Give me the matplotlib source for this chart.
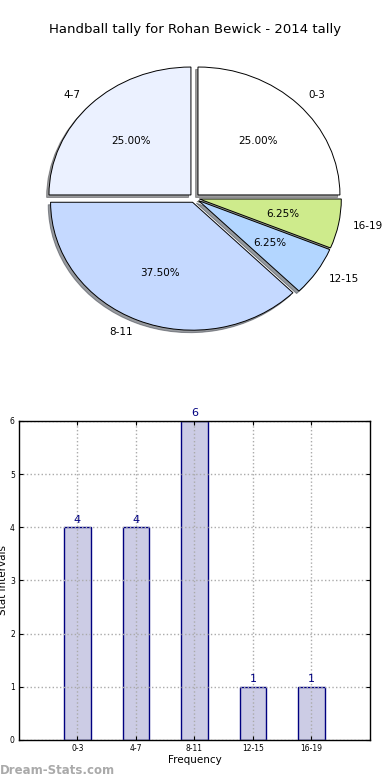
import numpy as np
import matplotlib
matplotlib.use('Agg')
import matplotlib.pyplot as plt

# data
categories = ['0-3', '4-7', '8-11', '12-15', '16-19']
counts = [4, 4, 6, 1, 1]
pie_colors = ['#FFFFFF', '#EBF1FF', '#C5D9FF', '#B3D6FF', '#CEEB8C']
title = 'Handball tally for Rohan Bewick - 2014 tally'

fig = plt.figure(figsize=(3.9, 7.8), dpi=100)

# pie (elliptical, like the old matplotlib without axis equal)
ax1 = fig.add_axes([0.0436, 0.541, 0.910, 0.410])
ax1.pie(counts, labels=categories, colors=pie_colors, autopct='%1.2f%%',
        explode=[0.035] * len(counts),
        shadow=dict(ox=-0.012, oy=-0.014, shade=0.75), startangle=0,
        textprops=dict(fontsize=7.5),
        wedgeprops=dict(edgecolor='black', linewidth=0.7))
ax1.set_aspect('auto')
ax1.set_xlim(-1.25, 1.25)
ax1.set_ylim(-1.25, 1.25)
fig.text(0.5, 1 - 30 / 780, title, ha='center', va='center', fontsize=9.5)

# bars
ax2 = fig.add_axes([0.0487, 0.0513, 0.900, 0.409])
x = np.arange(len(categories))
ax2.bar(x, counts, width=0.45, color=(0, 0, 0.5, 0.2), edgecolor='navy',
        linewidth=1)
for xi, c in zip(x, counts):
    ax2.text(xi, c + 0.05, str(c), ha='center', va='bottom', color='navy',
             fontsize=8)
ax2.set_xlim(-1, 5)
ax2.set_ylim(0, 6)
ax2.set_xticks(x)
ax2.set_xticklabels(categories)
ax2.set_yticks(range(7))
ax2.tick_params(direction='in', length=3, labelsize=5.5, top=True, right=True,
                pad=3)
ax2.set_axisbelow(False)
ax2.grid(True, color='#AAAAAA', linestyle=':', linewidth=1)
ax2.set_xlabel('Frequency', fontsize=7.5, labelpad=1)
fig.text(3 / 390, 1 - 580 / 780, 'Stat Intervals', rotation=90,
         ha='center', va='center', fontsize=7.5)
for s in ax2.spines.values():
    s.set_linewidth(1)
    s.set_zorder(5)

fig.text(0.0, 1 - 771 / 780, 'Dream-Stats.com', ha='left', va='center',
         fontsize=8.5, color='#AAAAAA', fontweight='bold')

fig.savefig('out.png', dpi=100)
